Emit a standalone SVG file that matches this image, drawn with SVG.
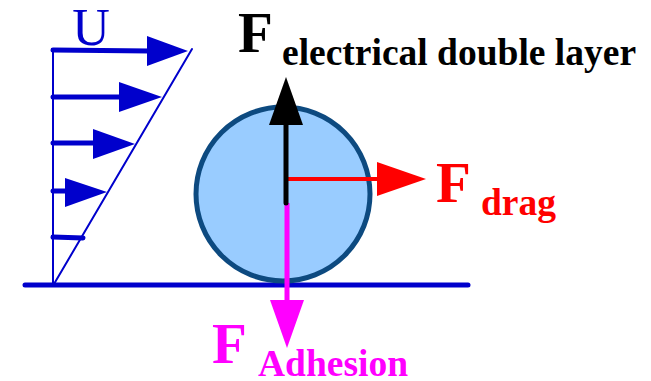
<svg xmlns="http://www.w3.org/2000/svg" width="651" height="381" viewBox="0 0 651 381">
<style>
.blue{stroke:#0000cc;fill:none;stroke-linecap:round}
.shaft{stroke-width:5}
.thin{stroke-width:2}
.lbl{font-family:"Liberation Serif","Times New Roman",serif;font-weight:bold}
.big{font-size:57px}
.sub{font-size:37.5px}
</style>
<g id="profile">
<line class="blue thin" x1="53" y1="50" x2="53" y2="284"/>
<line class="blue thin" x1="54" y1="284" x2="192" y2="49"/>
<line class="blue shaft" x1="25" y1="285" x2="468" y2="285"/>
<text x="91" y="45" text-anchor="middle" font-family="Liberation Serif, serif" font-size="52" fill="#0000cc">U</text>
</g>
<g id="connectors">
<line class="blue shaft" x1="53" y1="50" x2="150" y2="51"/>
<polygon points="147,36 188,51 147,66" fill="#0000cc"/>
<line class="blue shaft" x1="53" y1="97" x2="122" y2="97"/>
<polygon points="119,82 162,97 119,112" fill="#0000cc"/>
<line class="blue shaft" x1="53" y1="143" x2="96" y2="143"/>
<polygon points="93,129 135,144 93,159" fill="#0000cc"/>
<line class="blue shaft" x1="53" y1="191" x2="68" y2="191"/>
<polygon points="65,178 107,192 65,207" fill="#0000cc"/>
<line class="blue shaft" x1="53" y1="237" x2="83" y2="238"/>
</g>
<g id="particle">
<circle cx="283" cy="194" r="87" fill="#99ccff" stroke="#0d4a80" stroke-width="5"/>
</g>
<g id="forces">
<line x1="287" y1="203" x2="287" y2="302" stroke="#ff00ff" stroke-width="5"/>
<polygon points="270,300 304,300 287,348" fill="#ff00ff"/>
<line x1="286" y1="179" x2="380" y2="179" stroke="#ff0000" stroke-width="4"/>
<polygon points="377,162 426,179 377,196" fill="#ff0000"/>
<line x1="286" y1="203" x2="286" y2="122" stroke="#000" stroke-width="5" stroke-linecap="round"/>
<polygon points="269,125 303,125 286,77" fill="#000"/>
</g>
<g id="labels">
<text class="lbl" x="238" y="52"><tspan class="big">F</tspan><tspan class="sub" x="282" y="65">electrical double layer</tspan></text>
<text class="lbl" x="436" y="202" fill="#ff0000"><tspan class="big">F</tspan><tspan class="sub" x="481" y="215">drag</tspan></text>
<text class="lbl" x="212" y="363" fill="#ff00ff"><tspan class="big">F</tspan><tspan class="sub" x="258" y="376">Adhesion</tspan></text>
</g>
</svg>
